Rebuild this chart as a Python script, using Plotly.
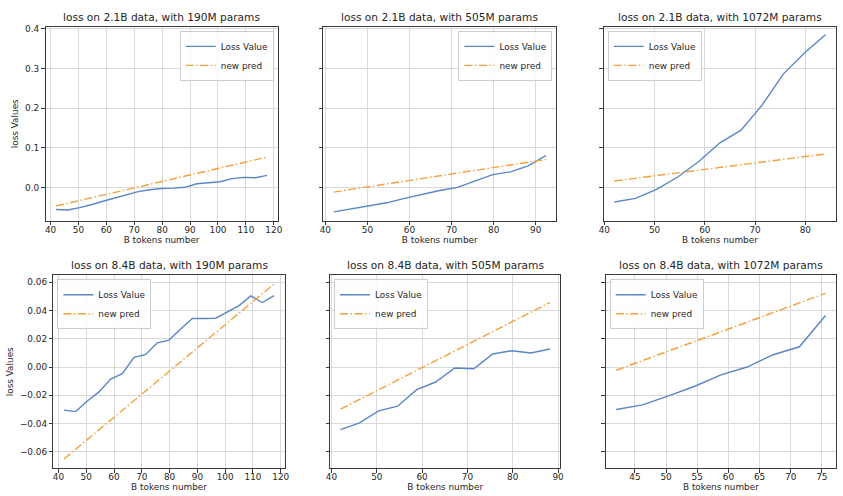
import plotly.graph_objects as go

# ---------------- data ----------------
tokens_190 = [42.0, 46.2, 50.4, 54.6, 58.8, 63.0, 67.2, 71.4, 75.6, 79.8, 84.0, 88.2, 92.4, 96.6, 100.8, 105.0, 109.2, 113.4, 117.6]
tokens_505_21 = [42.0, 46.2, 50.4, 54.6, 58.8, 63.0, 67.2, 71.4, 75.6, 79.8, 84.0, 88.2, 92.4]
tokens_1072_21 = [42.0, 46.2, 50.4, 54.6, 58.8, 63.0, 67.2, 71.4, 75.6, 79.8, 84.0]
tokens_505_84 = [42.0, 46.2, 50.4, 54.6, 58.8, 63.0, 67.2, 71.4, 75.6, 79.8, 84.0, 88.2]
tokens_1072_84 = [42.0, 46.2, 50.4, 54.6, 58.8, 63.0, 67.2, 71.4, 75.6]

loss_21_190 = [-0.055, -0.056, -0.050, -0.043, -0.034, -0.026, -0.017, -0.010, -0.005, -0.002, -0.001, 0.001, 0.010, 0.012, 0.015, 0.023, 0.026, 0.025, 0.031]
loss_21_505 = [-0.061, -0.053, -0.046, -0.038, -0.027, -0.017, -0.007, 0.001, 0.016, 0.033, 0.040, 0.055, 0.081]
loss_21_1072 = [-0.036, -0.027, -0.004, 0.027, 0.066, 0.113, 0.145, 0.208, 0.286, 0.339, 0.385]
loss_84_190 = [-0.0305, -0.0315, -0.0240, -0.0176, -0.0085, -0.0047, 0.0068, 0.0089, 0.0171, 0.0190, 0.0268, 0.0343, 0.0343, 0.0345, 0.0390, 0.0434, 0.0503, 0.0456, 0.0505]
loss_84_505 = [-0.0442, -0.0395, -0.0310, -0.0277, -0.0160, -0.0106, -0.0007, -0.0012, 0.0092, 0.0115, 0.0099, 0.0127]
loss_84_1072 = [-0.0300, -0.0268, -0.0204, -0.0136, -0.0056, 0.0000, 0.0087, 0.0143, 0.0364]

# "new pred" straight lines: endpoints (first and last token count)
pred_x_21_190 = [42.0, 117.6]
pred_21_190 = [-0.046, 0.077]
pred_x_21_505 = [42.0, 92.4]
pred_21_505 = [-0.011, 0.071]
pred_x_21_1072 = [42.0, 84.0]
pred_21_1072 = [0.017, 0.085]
pred_x_84_190 = [42.0, 117.6]
pred_84_190 = [-0.065, 0.0587]
pred_x_84_505 = [42.0, 88.2]
pred_84_505 = [-0.0298, 0.0456]
pred_x_84_1072 = [42.0, 75.6]
pred_84_1072 = [-0.0023, 0.0521]

titles = [
    "loss on 2.1B data, with 190M params",
    "loss on 2.1B data, with 505M params",
    "loss on 2.1B data, with 1072M params",
    "loss on 8.4B data, with 190M params",
    "loss on 8.4B data, with 505M params",
    "loss on 8.4B data, with 1072M params",
]
series_names = ["Loss Value", "new pred"]
x_label = "B tokens number"
y_label = "loss Values"

top_yticks = [0.0, 0.1, 0.2, 0.3, 0.4]
top_yticktext = ["0.0", "0.1", "0.2", "0.3", "0.4"]
bot_yticks = [-0.06, -0.04, -0.02, 0.0, 0.02, 0.04, 0.06]
bot_yticktext = ["\u22120.06", "\u22120.04", "\u22120.02", "0.00", "0.02", "0.04", "0.06"]

xticks = [
    [40, 50, 60, 70, 80, 90, 100, 110, 120],
    [40, 50, 60, 70, 80, 90],
    [40, 50, 60, 70, 80],
    [40, 50, 60, 70, 80, 90, 100, 110, 120],
    [40, 50, 60, 70, 80, 90],
    [45, 50, 55, 60, 65, 70, 75],
]

panels = [
    (tokens_190, loss_21_190, pred_x_21_190, pred_21_190),
    (tokens_505_21, loss_21_505, pred_x_21_505, pred_21_505),
    (tokens_1072_21, loss_21_1072, pred_x_21_1072, pred_21_1072),
    (tokens_190, loss_84_190, pred_x_84_190, pred_84_190),
    (tokens_505_84, loss_84_505, pred_x_84_505, pred_84_505),
    (tokens_1072_84, loss_84_1072, pred_x_84_1072, pred_84_1072),
]

# ---------------- layout geometry (pixels) ----------------
W, H = 843, 496
px_x = [(41, 276), (322, 558), (606, 841), (49, 283), (329, 562), (608, 841)]
px_y = [(24, 219)] * 3 + [(274, 468)] * 3
xranges = [[38.2, 121.4], [39.5, 94.9], [39.9, 86.1], [38.2, 121.4], [39.7, 90.5], [40.32, 77.28]]
yr_top = [-0.083, 0.405]
yr_bot = [-0.0715, 0.0648]
legend_pos = ["right", "right", "left", "left", "left", "left"]

BLUE = "#5a86c8"
ORANGE = "#f5a03c"
TXT = "#262626"
GRID = "#d9d9d9"
AX = "#3a3a3a"
FONT = "DejaVu Sans"
FS = 8.9

fig = go.Figure()
layout = dict(
    width=W, height=H,
    margin=dict(l=0, r=0, t=0, b=0),
    paper_bgcolor="white", plot_bgcolor="white",
    font=dict(family=FONT, size=FS, color=TXT),
    showlegend=True,
    annotations=[],
)

for i, (xs, ys, pxs, pys) in enumerate(panels):
    n = i + 1
    xa = "x" if n == 1 else f"x{n}"
    ya = "y" if n == 1 else f"y{n}"
    lg = "legend" if n == 1 else f"legend{n}"
    fig.add_trace(go.Scatter(x=xs, y=ys, mode="lines", name=series_names[0],
                             line=dict(color=BLUE, width=1.4), xaxis=xa, yaxis=ya, legend=lg))
    fig.add_trace(go.Scatter(x=pxs, y=pys, mode="lines", name=series_names[1],
                             line=dict(color=ORANGE, width=1.4, dash="8px,2.5px,1.5px,2.5px"),
                             xaxis=xa, yaxis=ya, legend=lg))
    x0, x1 = px_x[i]
    y0, y1 = px_y[i]
    top = i < 3
    xkey = "xaxis" if n == 1 else f"xaxis{n}"
    ykey = "yaxis" if n == 1 else f"yaxis{n}"
    layout[xkey] = dict(
        domain=[x0 / W, x1 / W], anchor=ya, range=xranges[i],
        tickvals=xticks[i], ticks="outside", ticklen=3.5, tickcolor=AX, tickwidth=0.8,
        showline=True, mirror=True, linecolor=AX, linewidth=1,
        showgrid=True, gridcolor=GRID, gridwidth=1, zeroline=False,
        tickfont=dict(size=FS, color=TXT), ticklabelstandoff=-3,
        title=dict(text=x_label, font=dict(size=FS, color=TXT), standoff=0),
    )
    layout[ykey] = dict(
        domain=[1 - y1 / H, 1 - y0 / H], anchor=xa,
        range=yr_top if top else yr_bot,
        tickvals=top_yticks if top else bot_yticks,
        ticktext=top_yticktext if top else bot_yticktext,
        showticklabels=(i % 3 == 0),
        ticks="outside", ticklen=3.5, tickcolor=AX, tickwidth=0.8,
        showline=True, mirror=True, linecolor=AX, linewidth=1,
        showgrid=True, gridcolor=GRID, gridwidth=1, zeroline=False,
        tickfont=dict(size=FS, color=TXT),
        title=dict(text=y_label if i % 3 == 0 else "", font=dict(size=FS, color=TXT), standoff=4),
    )
    layout["annotations"].append(dict(
        text=titles[i], xref="paper", yref="paper",
        x=(x0 + x1) / 2 / W, y=1 - y0 / H, xanchor="center", yanchor="bottom",
        yshift=2, showarrow=False, font=dict(size=10.6, color=TXT, family=FONT),
    ))
    if legend_pos[i] == "right":
        lx, xanc = (x1 - 4) / W, "right"
    else:
        lx, xanc = (x0 + 4) / W, "left"
    layout[lg] = dict(
        x=lx, y=1 - (y0 + 4) / H, xanchor=xanc, yanchor="top",
        xref="paper", yref="paper",
        bgcolor="rgba(255,255,255,0.85)", bordercolor="#cccccc", borderwidth=1,
        font=dict(size=FS, color=TXT, family=FONT),
        itemwidth=30, tracegroupgap=0,
    )

fig.update_layout(**layout)
fig.write_html("out.html", config={"displayModeBar": False},
               post_script="document.body.style.margin='0';")
